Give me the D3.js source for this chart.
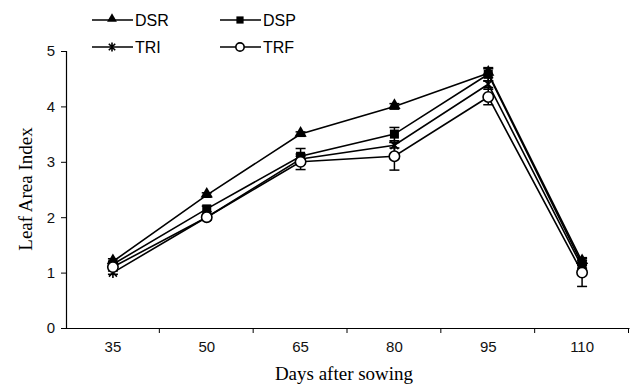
<!DOCTYPE html>
<html>
<head>
<meta charset="utf-8">
<script src="https://cdn.jsdelivr.net/npm/d3@7"></script>
<style>
  body { margin: 0; background: #fff; }
  svg { display: block; }
</style>
</head>
<body>
<div id="chart"></div>
<script>
// days after sowing
let days = ['35', '50', '65', '80', '95', '110'];
let yTicks = [0, 1, 2, 3, 4, 5];

// leaf area index per treatment
let dsr = [1.2, 2.4, 3.5, 4.0, 4.6, 1.2];
let dsp = [1.15, 2.15, 3.1, 3.5, 4.58, 1.15];
let tri = [1.0, 2.0, 3.05, 3.3, 4.4, 1.1];
let trf = [1.1, 2.0, 3.0, 3.1, 4.17, 1.0];

// error bar half-widths
let dsrErr = [0.05, 0.04, 0.04, 0.05, 0.08, 0.07];
let dspErr = [0.05, 0.05, 0.14, 0.12, 0.12, 0.07];
let triErr = [0.03, 0.03, 0.05, 0.05, 0.06, 0.05];
let trfErr = [0.04, 0.05, 0.14, 0.25, 0.14, 0.25];

let seriesNames = ['DSR', 'DSP', 'TRI', 'TRF'];

let width = 632;
let height = 388;
let margin = { top: 51, right: 3, bottom: 60, left: 66 };

let svg = d3.select('#chart')
  .append('svg')
  .attr('width', width)
  .attr('height', height);

let xScale = d3.scaleBand()
  .domain(days)
  .range([margin.left, width - margin.right]);

let yScale = d3.scaleLinear()
  .domain([0, 5])
  .range([height - margin.bottom, margin.top]);

// axes
let yAxis = svg.append('g')
  .attr('transform', `translate(${margin.left},0)`)
  .call(d3.axisLeft(yScale).tickValues(yTicks).tickSize(5).tickPadding(6).tickFormat(d3.format('d')));

let xAxis = svg.append('g')
  .attr('transform', `translate(0,${height - margin.bottom})`)
  .call(d3.axisBottom(xScale).tickSize(0).tickPadding(13));

// x ticks sit between categories
let boundaries = days.map(d => xScale(d) + xScale.bandwidth());
xAxis.selectAll('.sep')
  .data(boundaries)
  .enter()
  .append('line')
  .attr('x1', d => d - 0.5)
  .attr('x2', d => d - 0.5)
  .attr('y1', 0)
  .attr('y2', 5)
  .attr('stroke', '#000');

svg.selectAll('.domain').attr('stroke', '#000').attr('stroke-width', 1.2);
svg.selectAll('.tick line').attr('stroke', '#000');
svg.selectAll('.tick text')
  .attr('fill', '#111')
  .style('font-family', 'Liberation Sans, Arial, sans-serif')
  .style('font-size', '15px');

// axis titles
svg.append('text')
  .attr('x', 344)
  .attr('y', 380)
  .attr('text-anchor', 'middle')
  .style('font-family', 'Liberation Serif, Times New Roman, serif')
  .style('font-size', '19px')
  .text('Days after sowing');

svg.append('text')
  .attr('transform', 'translate(32,189) rotate(-90)')
  .attr('text-anchor', 'middle')
  .style('font-family', 'Liberation Serif, Times New Roman, serif')
  .style('font-size', '19px')
  .text('Leaf Area Index');

// marker shapes
function marker(g, name, k) {
  if (name === 'DSR') {
    g.append('path')
      .attr('d', d3.symbol().type(d3.symbolTriangle).size(65 * k * k)())
      .attr('transform', 'translate(0,-1)')
      .attr('fill', '#000');
  } else if (name === 'DSP') {
    g.append('rect')
      .attr('x', -4.5 * k).attr('y', -4.5 * k).attr('width', 9 * k).attr('height', 9 * k)
      .attr('fill', '#000');
  } else if (name === 'TRI') {
    let a = 4 * k, b = 5.5 * k;
    g.append('path')
      .attr('d', `M${-a},${-a}L${a},${a}M${-a},${a}L${a},${-a}M0,${-b}L0,${b}`)
      .attr('stroke', '#000')
      .attr('stroke-width', 1.6)
      .attr('fill', 'none');
  } else {
    g.append('circle')
      .attr('r', 5.2 * k)
      .attr('fill', '#fff')
      .attr('stroke', '#000')
      .attr('stroke-width', 1.6);
  }
}

let series = [
  { name: 'DSR', values: dsr, errs: dsrErr },
  { name: 'DSP', values: dsp, errs: dspErr },
  { name: 'TRI', values: tri, errs: triErr },
  { name: 'TRF', values: trf, errs: trfErr }
];

let cx = d => xScale(d) + xScale.bandwidth() / 2;

let line = d3.line()
  .x(d => cx(d.day))
  .y(d => yScale(d.v));

// lines first
series.forEach(function(s) {
  let pts = days.map((d, i) => ({ day: d, v: s.values[i], e: s.errs[i] }));
  s.pts = pts;
  svg.append('path')
    .datum(pts)
    .attr('d', line)
    .attr('fill', 'none')
    .attr('stroke', '#000')
    .attr('stroke-width', 1.6);
});

// error bars
series.forEach(function(s) {
  let eb = svg.append('g').selectAll('g')
    .data(s.pts)
    .enter()
    .append('g');
  eb.append('line')
    .attr('x1', d => cx(d.day)).attr('x2', d => cx(d.day))
    .attr('y1', d => yScale(d.v - d.e)).attr('y2', d => yScale(d.v + d.e))
    .attr('stroke', '#000').attr('stroke-width', 1.5);
  eb.append('line')
    .attr('x1', d => cx(d.day) - 5).attr('x2', d => cx(d.day) + 5)
    .attr('y1', d => yScale(d.v - d.e)).attr('y2', d => yScale(d.v - d.e))
    .attr('stroke', '#000').attr('stroke-width', 1.5);
  eb.append('line')
    .attr('x1', d => cx(d.day) - 5).attr('x2', d => cx(d.day) + 5)
    .attr('y1', d => yScale(d.v + d.e)).attr('y2', d => yScale(d.v + d.e))
    .attr('stroke', '#000').attr('stroke-width', 1.5);
});

// markers
series.forEach(function(s) {
  s.pts.forEach(function(p) {
    let g = svg.append('g').attr('transform', `translate(${cx(p.day)},${yScale(p.v)})`);
    marker(g, s.name, 1);
  });
});

// legend
let legendPos = [
  { x: 92, y: 20 }, { x: 220, y: 20 },
  { x: 92, y: 47 }, { x: 220, y: 47 }
];
seriesNames.forEach(function(name, i) {
  let g = svg.append('g').attr('transform', `translate(${legendPos[i].x},${legendPos[i].y})`);
  g.append('line')
    .attr('x1', 0).attr('x2', 41).attr('y1', 0).attr('y2', 0)
    .attr('stroke', '#000').attr('stroke-width', 1.6);
  let m = g.append('g').attr('transform', 'translate(20,0)');
  marker(m, name, 0.8);
  g.append('text')
    .attr('x', 43)
    .attr('y', 6)
    .style('font-family', 'Liberation Sans, Arial, sans-serif')
    .style('font-size', '16px')
    .text(name);
});
</script>
</body>
</html>
